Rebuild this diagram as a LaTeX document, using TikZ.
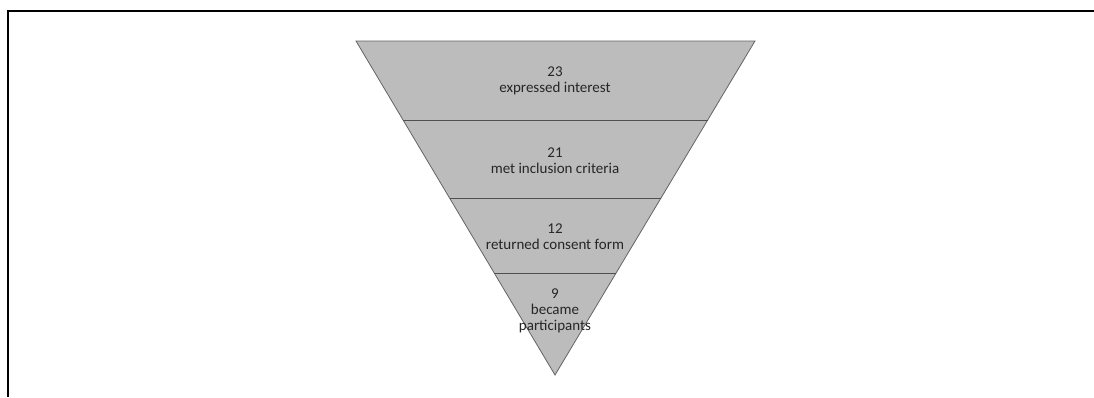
\documentclass[tikz,border=0pt]{standalone}
\usepackage{fontspec}
\setmainfont{Carlito}
\usepackage{xcolor}
\usetikzlibrary{positioning}

\definecolor{funnelgray}{RGB}{188,188,188}
\definecolor{edgegray}{RGB}{100,100,100}

\begin{document}
\begin{tikzpicture}[
    x=1pt, y=-1pt,
    frame/.style={draw=black, line width=2pt},
    stage/.style={draw=edgegray, fill=funnelgray, line width=0.8pt, line join=miter},
    divider/.style={draw=edgegray!80!black, line width=1pt},
    stagetext/.style={align=center, text=black!85, font=\fontsize{15}{16}\selectfont, inner sep=0pt}
]
    \useasboundingbox (0,0) rectangle (1094,397);

    % outer frame, left and top only
    \coordinate (frametop) at (1094,11);
    \coordinate (framecorner) at (8,11);
    \coordinate (framebottom) at (8,397);
    \draw[frame] (frametop) -- (framecorner) -- (framebottom);

    % the funnel
    \coordinate (topleft) at (356,41);
    \coordinate (topright) at (755,41);
    \coordinate (apex) at (555,375);
    \filldraw[stage] (topleft) -- (topright) -- (apex) -- cycle;

    \coordinate (cutAleft) at (403.1,120);
    \coordinate (cutAright) at (707.7,120);
    \coordinate (cutBleft) at (449.5,198);
    \coordinate (cutBright) at (661.0,198);
    \coordinate (cutCleft) at (494.2,273);
    \coordinate (cutCright) at (616.1,273);
    \draw[divider] (cutAleft) -- (cutAright);
    \draw[divider] (cutBleft) -- (cutBright);
    \draw[divider] (cutCleft) -- (cutCright);

    % stage labels
    \node[stagetext] (interest) at (555,81) {23\\expressed interest};
    \node[stagetext] (criteria) at (555,161) {21\\met inclusion criteria};
    \node[stagetext] (consent) at (555,237) {12\\returned consent form};
    \node[stagetext] (participants) at (555,311) {9\\became\\participants};
\end{tikzpicture}
\end{document}
